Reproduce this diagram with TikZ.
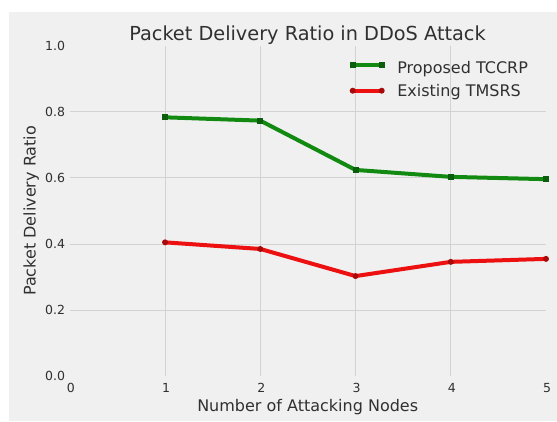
\documentclass[tikz,border=0pt]{standalone}
\usepackage{fontspec}
\setmainfont{DejaVu Sans}
\definecolor{bgfill}{HTML}{F0F0F0}
\definecolor{gridgray}{HTML}{D2D2D2}
\definecolor{labelgray}{HTML}{303030}
\definecolor{seriesgreen}{HTML}{128A12}
\definecolor{markgreen}{HTML}{0B5E0B}
\definecolor{seriesred}{HTML}{EC1010}
\definecolor{markred}{HTML}{A80A0A}
\begin{document}
\begin{tikzpicture}[x=1pt,y=1pt,
  declare function={px(\a)=69.8+95.24*\a; py(\v)=44.7+330.75*\v;},
  gridline/.style={draw=gridgray, line width=1pt},
  ticklabel/.style={font=\fontsize{12.5}{12.5}\selectfont, text=labelgray, inner sep=0pt, outer sep=0pt},
  axislabel/.style={font=\fontsize{16}{16}\selectfont, text=labelgray, inner sep=0pt, outer sep=0pt},
  gline/.style={draw=seriesgreen, line width=4pt, line join=round},
  rline/.style={draw=seriesred, line width=4pt, line join=round},
  gmark/.style={rectangle, fill=markgreen, minimum size=6pt, inner sep=0pt},
  rmark/.style={circle, fill=markred, minimum size=6pt, inner sep=0pt}]
% figure background
\useasboundingbox (0,0) rectangle (557,421);
\fill[bgfill] (8.5,0) rectangle (557,408.5);
% grid
\foreach \k in {1,...,4}
  \draw[gridline] ({px(\k)},{py(0)}) -- ({px(\k)},{py(1)});
\foreach \v in {0.2,0.4,0.6,0.8}
  \draw[gridline] ({px(0)},{py(\v)}) -- ({px(5)},{py(\v)});
% tick labels
\foreach \v/\t [count=\n] in {0/0.0,0.2/0.2,0.4/0.4,0.6/0.6,0.8/0.8,1/1.0}
  \node[ticklabel, anchor=base east] (yt\n) at (65,{py(\v)-4.5}) {\t};
\foreach \k in {0,...,5}
  \node[ticklabel, anchor=base] (xt\k) at ({px(\k)+1},29) {\k};
% axis labels and title
\node[axislabel, anchor=base] (xlab) at (307.7,10) {Number of Attacking Nodes};
\node[axislabel, anchor=base, rotate=90] (ylab) at (35.7,210.2) {Packet Delivery Ratio};
\node[font=\fontsize{19.3}{19.3}\selectfont, text=labelgray, inner sep=0pt, anchor=base] (title) at (307.5,380.5) {Packet Delivery Ratio in DDoS Attack};
% data points
\foreach \i/\v in {1/0.783,2/0.773,3/0.624,4/0.603,5/0.596}
  \coordinate (g\i) at ({px(\i)},{py(\v)});
\foreach \i/\v in {1/0.405,2/0.385,3/0.303,4/0.346,5/0.355}
  \coordinate (r\i) at ({px(\i)},{py(\v)});
% series
\draw[gline] (g1) -- (g2) -- (g3) -- (g4) -- (g5);
\foreach \i in {1,...,5} \node[gmark] (gm\i) at (g\i) {};
\draw[rline] (r1) -- (r2) -- (r3) -- (r4) -- (r5);
\foreach \i in {1,...,5} \node[rmark] (rm\i) at (r\i) {};
% legend
\coordinate (lga) at (352.7,356);
\coordinate (lgb) at (381.7,356);
\coordinate (lra) at (352.7,330.3);
\coordinate (lrb) at (381.7,330.3);
\draw[gline] (lga) -- (lgb);
\node[gmark] (lgma) at (lga) {};
\node[gmark] (lgmb) at (lgb) {};
\draw[rline] (lra) -- (lrb);
\node[rmark] (lrma) at (lra) {};
\node[rmark] (lrmb) at (lrb) {};
\node[axislabel, anchor=base west] (lgt) at (397.3,347.7) {Proposed TCCRP};
\node[axislabel, anchor=base west] (lrt) at (397.3,324.3) {Existing TMSRS};
\end{tikzpicture}
\end{document}
